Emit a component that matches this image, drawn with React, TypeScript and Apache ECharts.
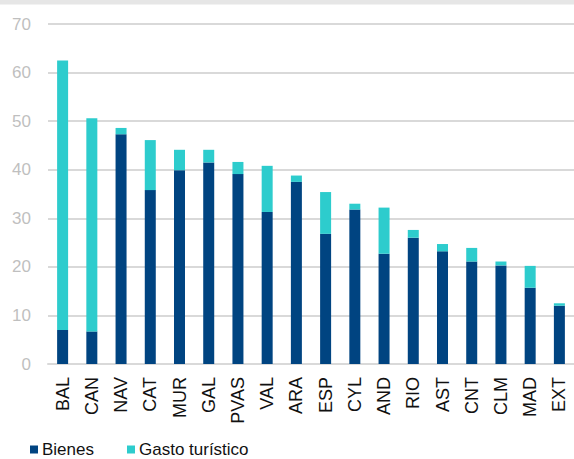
import React, { useEffect, useRef } from "react";
import * as echarts from "echarts";

const categories = ["BAL", "CAN", "NAV", "CAT", "MUR", "GAL", "PVAS", "VAL", "ARA", "ESP", "CYL", "AND", "RIO", "AST", "CNT", "CLM", "MAD", "EXT"];
const bienes = [7.0, 6.7, 47.3, 35.8, 39.9, 41.5, 39.1, 31.3, 37.5, 26.8, 31.8, 22.7, 26.0, 23.2, 21.1, 20.3, 15.7, 12.0];
const gastoTuristico = [55.5, 43.9, 1.3, 10.3, 4.2, 2.6, 2.5, 9.5, 1.3, 8.6, 1.2, 9.5, 1.6, 1.5, 2.8, 0.8, 4.5, 0.5];
const yTicks = { min: 0, max: 70, interval: 10 };

const FONT = "'Liberation Sans', Arial, sans-serif";

export default function App() {
  const ref = useRef<HTMLDivElement>(null);
  useEffect(() => {
    if (!ref.current) return;
    const chart = echarts.init(ref.current, undefined, { renderer: "svg" });
    chart.setOption({
      animation: false,
      backgroundColor: "#ffffff",
      graphic: [
        { type: "rect", left: 0, top: 0, shape: { width: 574, height: 4.5 }, style: { fill: "#e6e6e6" } },
      ],
      grid: { left: 48, right: 0, top: 24, bottom: 95 },
      legend: {
        left: 25,
        top: 436,
        padding: 5,
        itemWidth: 8,
        itemHeight: 8,
        itemGap: 33,
        icon: "rect",
        textStyle: { fontFamily: FONT, fontSize: 17, color: "#111", padding: [0, 0, 0, -1] },
        data: ["Bienes", "Gasto turístico"],
      },
      xAxis: {
        type: "category",
        data: categories,
        axisLine: { lineStyle: { color: "#d9d9d9", width: 2 } },
        axisTick: { show: false },
        axisLabel: {
          rotate: 90,
          interval: 0,
          margin: 13,
          fontFamily: FONT,
          fontSize: 18,
          color: "#111",
        },
      },
      yAxis: {
        type: "value",
        min: yTicks.min,
        max: yTicks.max,
        interval: yTicks.interval,
        axisLine: { show: false },
        axisTick: { show: false },
        splitLine: { lineStyle: { color: "#d9d9d9", width: 2 } },
        axisLabel: {
          margin: 17,
          fontFamily: FONT,
          fontSize: 17,
          color: "#bfbfbf",
        },
      },
      series: [
        {
          name: "Bienes",
          type: "bar",
          stack: "total",
          data: bienes,
          barWidth: 11,
          itemStyle: { color: "#004481" },
        },
        {
          name: "Gasto turístico",
          type: "bar",
          stack: "total",
          data: gastoTuristico,
          barWidth: 11,
          itemStyle: { color: "#2dcccd" },
        },
      ],
    });
    return () => chart.dispose();
  }, []);
  return <div ref={ref} style={{ position: "fixed", left: 0, top: 0, width: 574, height: 459 }} />;
}
